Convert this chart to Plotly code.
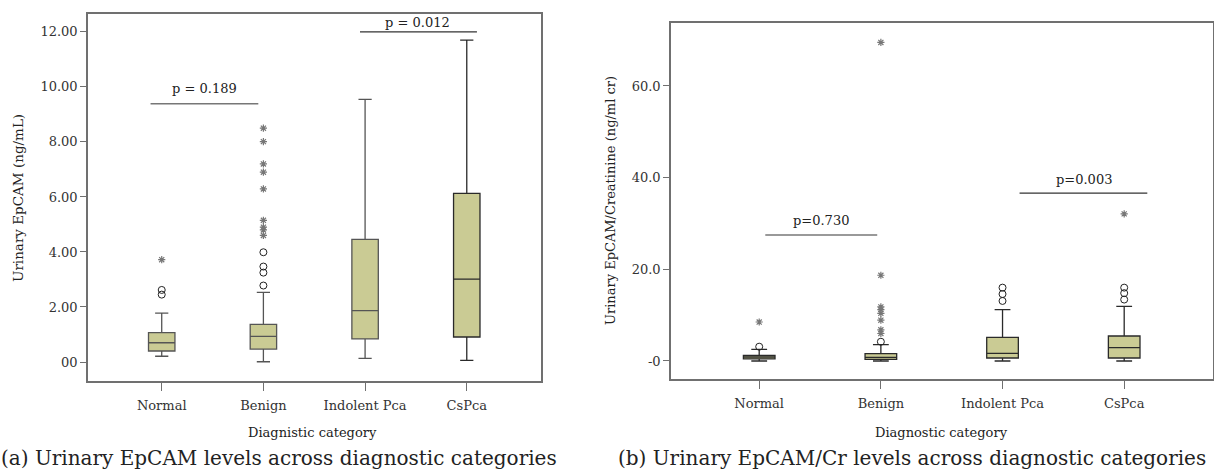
import plotly.graph_objects as go

categories = ["Normal", "Benign", "Indolent Pca", "CsPca"]

# Panel (a): Urinary EpCAM (ng/mL)
a_q1 = [0.40, 0.47, 0.84, 0.91]
a_median = [0.70, 0.93, 1.87, 3.01]
a_q3 = [1.07, 1.37, 4.46, 6.13]
a_low = [0.21, 0.01, 0.13, 0.06]
a_high = [1.78, 2.53, 9.55, 11.70]
a_circles = {"Normal": [2.62, 2.45], "Benign": [2.78, 3.25, 3.47, 3.99]}
a_stars = {"Normal": [3.72], "Benign": [4.60, 4.80, 4.90, 5.15, 6.29, 6.90, 7.20, 8.01, 8.50]}
a_yticks = [0, 2, 4, 6, 8, 10, 12]
a_yticktext = ["00", "2.00", "4.00", "6.00", "8.00", "10.00", "12.00"]

# Panel (b): Urinary EpCAM/Creatinine (ng/ml cr)
b_q1 = [0.44, 0.37, 0.65, 0.65]
b_median = [0.87, 0.80, 1.67, 2.90]
b_q3 = [1.24, 1.60, 5.17, 5.45]
b_low = [0.0, 0.0, 0.0, 0.0]
b_high = [2.55, 3.56, 11.19, 11.93]
b_circles = {"Normal": [3.12], "Benign": [4.2], "Indolent Pca": [13.1, 14.6, 16.0], "CsPca": [13.4, 14.8, 16.0]}
b_stars = {"Normal": [8.5], "Benign": [6.0, 6.8, 8.9, 10.4, 11.2, 11.8, 18.7, 69.5], "CsPca": [32.1]}
b_yticks = [0, 20, 40, 60]
b_yticktext = ["-0", "20.0", "40.0", "60.0"]

FONT = "DejaVu Serif"
FILL = "#cacb94"
FRAME = "#707070"

fig = go.Figure()

def add_panel(xa, ya, q1, med, q3, lo, hi, circles, stars, linecols):
    for i, c in enumerate(categories):
        fig.add_trace(go.Box(
            x=[c], q1=[q1[i]], median=[med[i]], q3=[q3[i]],
            lowerfence=[lo[i]], upperfence=[hi[i]],
            width=0.26, whiskerwidth=0.5, fillcolor=FILL,
            line=dict(color=linecols[i], width=1.3),
            boxpoints=False, showlegend=False, hoverinfo="skip",
            xaxis=xa, yaxis=ya))
    for c, vals in circles.items():
        fig.add_trace(go.Scatter(
            x=[c] * len(vals), y=vals, mode="markers", showlegend=False,
            marker=dict(symbol="circle-open", size=7, color="#222",
                        line=dict(width=1, color="#222")),
            xaxis=xa, yaxis=ya))
    for c, vals in stars.items():
        fig.add_trace(go.Scatter(
            x=[c] * len(vals), y=vals, mode="markers", showlegend=False,
            marker=dict(symbol="asterisk-open", size=6, color="#777",
                        line=dict(width=1.2, color="#777")),
            xaxis=xa, yaxis=ya))

add_panel("x", "y", a_q1, a_median, a_q3, a_low, a_high, a_circles, a_stars,
          ["#555", "#555", "#555", "#2a2a2a"])
add_panel("x2", "y2", b_q1, b_median, b_q3, b_low, b_high, b_circles, b_stars,
          ["#2a2a2a"] * 4)

tickfont = dict(family=FONT, size=13, color="#333")
xcommon = dict(type="category", categoryorder="array", categoryarray=categories,
               range=[-0.725, 3.73], showline=True, mirror=True, linecolor=FRAME,
               linewidth=1.5, ticks="outside", ticklen=8, tickcolor=FRAME,
               showgrid=False, zeroline=False, tickfont=tickfont, ticklabelstandoff=4)
ycommon = dict(showline=True, mirror=True, linecolor=FRAME, linewidth=1.5,
               ticks="outside", ticklen=6, tickcolor=FRAME, showgrid=False,
               zeroline=False, tickfont=tickfont)

fig.update_layout(
    width=1214, height=475, margin=dict(l=0, r=0, t=0, b=0),
    plot_bgcolor="white", paper_bgcolor="white",
    xaxis=dict(domain=[88 / 1214, 541 / 1214], anchor="y", **xcommon),
    yaxis=dict(domain=[1 - 381 / 475, 1 - 14 / 475], anchor="x",
               range=[-0.69, 12.65], tickvals=a_yticks, ticktext=a_yticktext, **ycommon),
    xaxis2=dict(domain=[671 / 1214, 1213 / 1214], anchor="y2", **xcommon),
    yaxis2=dict(domain=[1 - 379 / 475, 1 - 22.7 / 475], anchor="x2",
                range=[-3.93, 73.8], tickvals=b_yticks, ticktext=b_yticktext, **ycommon),
)

# significance bars
fig.add_shape(type="line", xref="x", yref="y", x0=-0.11, x1=0.95, y0=9.39, y1=9.39,
              line=dict(color="#777", width=1.5))
fig.add_shape(type="line", xref="x", yref="y", x0=1.95, x1=3.10, y0=12.0, y1=12.0,
              line=dict(color="#333", width=1.3))
fig.add_shape(type="line", xref="x2", yref="y2", x0=0.05, x1=0.97, y0=27.5, y1=27.5,
              line=dict(color="#777", width=1.5))
fig.add_shape(type="line", xref="x2", yref="y2", x0=2.14, x1=3.19, y0=36.64, y1=36.64,
              line=dict(color="#333", width=1.3))

ann = []
def t(x, y, text, xref, yref, size=13, **kw):
    ann.append(dict(x=x, y=y, xref=xref, yref=yref, text=text, showarrow=False,
                    xanchor="center", yanchor="middle",
                    font=dict(family=FONT, size=size, color="#222"), **kw))

t(0.42, 9.95, "p = 0.189", "x", "y")
t(2.52, 12.35, "p = 0.012", "x", "y")
t(0.51, 30.75, "p=0.730", "x2", "y2")
t(2.67, 39.6, "p=0.003", "x2", "y2")

# axis titles
t(18 / 1214, 1 - 198 / 475, "Urinary EpCAM (ng/mL)", "paper", "paper", size=13.5, textangle=-90)
t(610 / 1214, 1 - 201 / 475, "Urinary EpCAM/Creatinine (ng/ml cr)", "paper", "paper", size=13, textangle=-90)
t(312 / 1214, 1 - 432 / 475, "Diagnistic category", "paper", "paper", size=13)
t(942 / 1214, 1 - 432 / 475, "Diagnostic category", "paper", "paper", size=13)

# captions
t(279 / 1214, 1 - 458 / 475, "(a) Urinary EpCAM levels across diagnostic categories", "paper", "paper", size=20)
t(912 / 1214, 1 - 458 / 475, "(b) Urinary EpCAM/Cr levels across diagnostic categories", "paper", "paper", size=20)

fig.update_layout(annotations=ann)
fig.write_html("out.html", config={"displayModeBar": False},
               post_script="document.body.style.margin='0';document.body.style.overflow='hidden';")
